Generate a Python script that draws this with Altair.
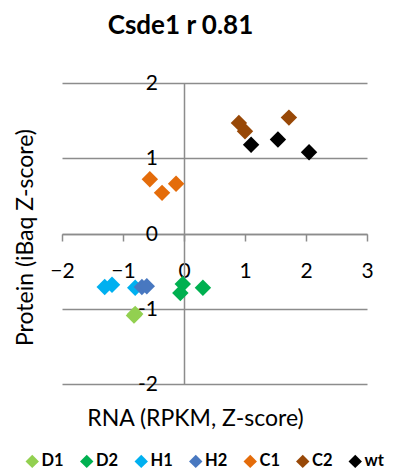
import altair as alt
import pandas as pd

groups = ["D1", "D2", "H1", "H2", "C1", "C2", "wt"]
colors = ["#92D050", "#00B050", "#00B0F0", "#4878C0", "#E46C0A", "#984807", "#000000"]

# RNA (x) and protein (y) z-scores per sample group
rna = {
    "D1": [-0.82, -0.80],
    "D2": [-0.02, -0.06, 0.31],
    "H1": [-1.30, -1.18, -0.80],
    "H2": [-0.69, -0.61],
    "C1": [-0.56, -0.36, -0.13],
    "C2": [0.90, 1.00, 1.72],
    "wt": [1.10, 1.54, 2.05],
}
prot = {
    "D1": [-1.09, -1.07],
    "D2": [-0.67, -0.79, -0.72],
    "H1": [-0.71, -0.68, -0.72],
    "H2": [-0.71, -0.70],
    "C1": [0.72, 0.54, 0.66],
    "C2": [1.47, 1.36, 1.54],
    "wt": [1.18, 1.25, 1.08],
}
x_ticks = [-2, -1, 0, 1, 2, 3]
y_ticks = [-2, -1, 0, 1, 2]

rows = []
for g in groups:
    for xv, yv in zip(rna[g], prot[g]):
        rows.append({"group": g, "rna": xv, "prot": yv})
df = pd.DataFrame(rows)
ylab = pd.DataFrame({"prot": y_ticks, "label": [str(v) for v in y_ticks]})

FONT = "Lato"
GRID = "#8C8C8C"

xscale = alt.Scale(domain=[-2, 3], nice=False, zero=False)
yscale = alt.Scale(domain=[-2, 2], nice=False, zero=False)

points = alt.Chart(df).mark_point(
    shape="diamond", filled=True, size=270, opacity=1, strokeWidth=0
).encode(
    x=alt.X(
        "rna:Q",
        scale=xscale,
        axis=alt.Axis(
            values=x_ticks, offset=-150, grid=False, tickSize=7, tickColor=GRID,
            tickWidth=1.5, domainColor=GRID, domainWidth=1.5, labelPadding=19,
            labelFont=FONT, labelFontSize=21, labelColor="#000000",
            labelFlush=False,
            title="RNA (RPKM, Z-score)", titleFont=FONT, titleFontSize=23,
            titleFontWeight="normal", titleColor="#000000",
            titleX=133, titleY=184, titleAlign="center", titleBaseline="middle",
        ),
    ),
    y=alt.Y(
        "prot:Q",
        scale=yscale,
        axis=alt.Axis(
            values=y_ticks, offset=-122, grid=True, gridColor=GRID, gridWidth=1.5,
            tickSize=0, domainColor=GRID, domainWidth=1.5, labels=False,
            title="Protein (iBaq Z-score)", titleFont=FONT, titleFontSize=23,
            titleFontWeight="normal", titleColor="#000000",
            titleX=-159, titleY=154, titleAlign="center", titleBaseline="middle",
        ),
    ),
    color=alt.Color(
        "group:N",
        scale=alt.Scale(domain=groups, range=colors),
        sort=groups,
        legend=alt.Legend(
            title=None, orient="none", direction="horizontal", legendX=-38,
            legendY=370, symbolType="diamond", symbolSize=180, symbolStrokeWidth=0,
            labelFont=FONT, labelFontSize=16.5, labelFontWeight="bold",
            labelColor="#000000", labelOffset=1, columnPadding=14.5, padding=0,
            symbolOpacity=1,
        ),
    ),
)

ylabels = alt.Chart(ylab).mark_text(
    align="right", baseline="middle", font=FONT, fontSize=21, color="#000000", dy=1
).encode(
    x=alt.value(96),
    y=alt.Y("prot:Q", scale=yscale),
    text="label:N",
)

chart = alt.layer(points, ylabels).properties(
    width=305,
    height=301,
    padding={"left": 54, "top": 75, "right": 18, "bottom": 110},
    autosize=alt.AutoSizeParams(type="none"),
    title=alt.TitleParams(
        "Csde1 r 0.81", font=FONT, fontSize=26, fontWeight="bold",
        color="#000000", anchor="middle", dx=-34, offset=34,
    ),
).configure_view(stroke=None)

chart.save("out.html", embed_options={"renderer": "svg", "actions": False})
